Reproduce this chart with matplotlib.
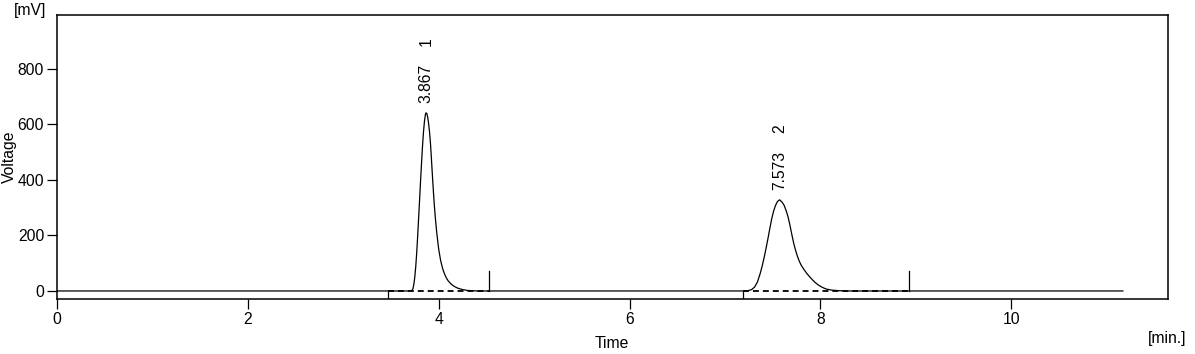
import matplotlib
matplotlib.use("Agg")
import matplotlib.pyplot as plt

plt.rcParams['font.family'] = ['Liberation Sans', 'DejaVu Sans']

# Chromatogram trace (time [min], voltage [mV])
time = [0.0,
        3.70, 3.72, 3.73, 3.74, 3.75, 3.76, 3.77, 3.78, 3.79, 3.80, 3.81, 3.82, 3.83,
        3.84, 3.85, 3.86, 3.867, 3.875, 3.885, 3.895, 3.905, 3.915, 3.925, 3.935,
        3.945, 3.955, 3.965, 3.98, 4.00, 4.02, 4.04, 4.06, 4.08, 4.10, 4.13, 4.16,
        4.20, 4.25, 4.30, 4.40,
        7.20, 7.24, 7.28, 7.31, 7.34, 7.37, 7.39, 7.41, 7.43, 7.45, 7.47, 7.49, 7.51,
        7.53, 7.55, 7.573, 7.60, 7.62, 7.64, 7.66, 7.68, 7.70, 7.72, 7.74, 7.76, 7.78,
        7.80, 7.83, 7.86, 7.90, 7.94, 7.98, 8.02, 8.06, 8.12, 8.20, 8.30,
        11.17]
voltage = [0,
           0, 2, 8, 25, 52, 90, 140, 200, 265, 330, 397, 460, 520,
           570, 608, 634, 641, 639, 625, 600, 568, 525, 468, 410,
           355, 305, 262, 208, 150, 110, 82, 62, 47, 36, 25, 17,
           10, 5, 2, 0,
           0, 1, 5, 14, 32, 64, 90, 120, 153, 188, 225, 260, 288,
           308, 322, 328, 319, 308, 290, 268, 238, 204, 172, 146, 124, 106,
           92, 76, 62, 46, 32, 21, 13, 7, 3, 1, 0,
           0]

# Peaks
peak_ids = ["1", "2"]
peak_times = [3.867, 7.573]
peak_heights = [641, 328]
peak_starts = [3.47, 7.19]
peak_ends = [4.53, 8.93]
end_marker_height = 72

x_ticks = [0, 2, 4, 6, 8, 10]
y_ticks = [0, 200, 400, 600, 800]
x_lim = (0, 11.64)
y_lim = (-30, 992)

fig = plt.figure(figsize=(11.95, 3.54), dpi=100)
ax = fig.add_axes([0.0477, 0.1545, 0.9295, 0.8023])

ax.plot(time, voltage, color='black', lw=0.9, zorder=3)

for s, e in zip(peak_starts, peak_ends):
    ax.plot([s, e], [0, 0], color='black', lw=1.3, linestyle=(0, (3.3, 2.2)), zorder=4)
    ax.plot([s, s], [y_lim[0], 0], color='black', lw=0.9, zorder=4)
    ax.plot([e, e], [0, end_marker_height], color='black', lw=0.9, zorder=4)

for pid, t, h in zip(peak_ids, peak_times, peak_heights):
    ax.annotate(f"{t:.3f}", xy=(t, h), xytext=(0, 7), textcoords='offset points',
                rotation=90, ha='center', va='bottom', fontsize=11.3)
    ax.annotate(pid, xy=(t, h), xytext=(0, 48), textcoords='offset points',
                rotation=90, ha='center', va='bottom', fontsize=11.3)

ax.set_xlim(*x_lim)
ax.set_ylim(*y_lim)
ax.set_xticks(x_ticks)
ax.set_yticks(y_ticks)
ax.set_xticklabels([str(v) for v in x_ticks])
ax.set_yticklabels([str(v) for v in y_ticks])
ax.tick_params(direction='out', length=7.2, width=0.9, labelsize=11.3, pad=2)
for sp in ax.spines.values():
    sp.set_linewidth(1.1)

fig.text(612 / 1195, 1 - 344 / 354, "Time", ha='center', va='center', fontsize=11.3)
fig.text(1167 / 1195, 1 - 338 / 354, "[min.]", ha='center', va='center', fontsize=11.3)
fig.text(30 / 1195, 1 - 11 / 354, "[mV]", ha='center', va='center', fontsize=11.3)
fig.text(9 / 1195, 1 - 157 / 354, "Voltage", ha='center', va='center', rotation=90, fontsize=11.3)

fig.savefig("out.png", dpi=100)
